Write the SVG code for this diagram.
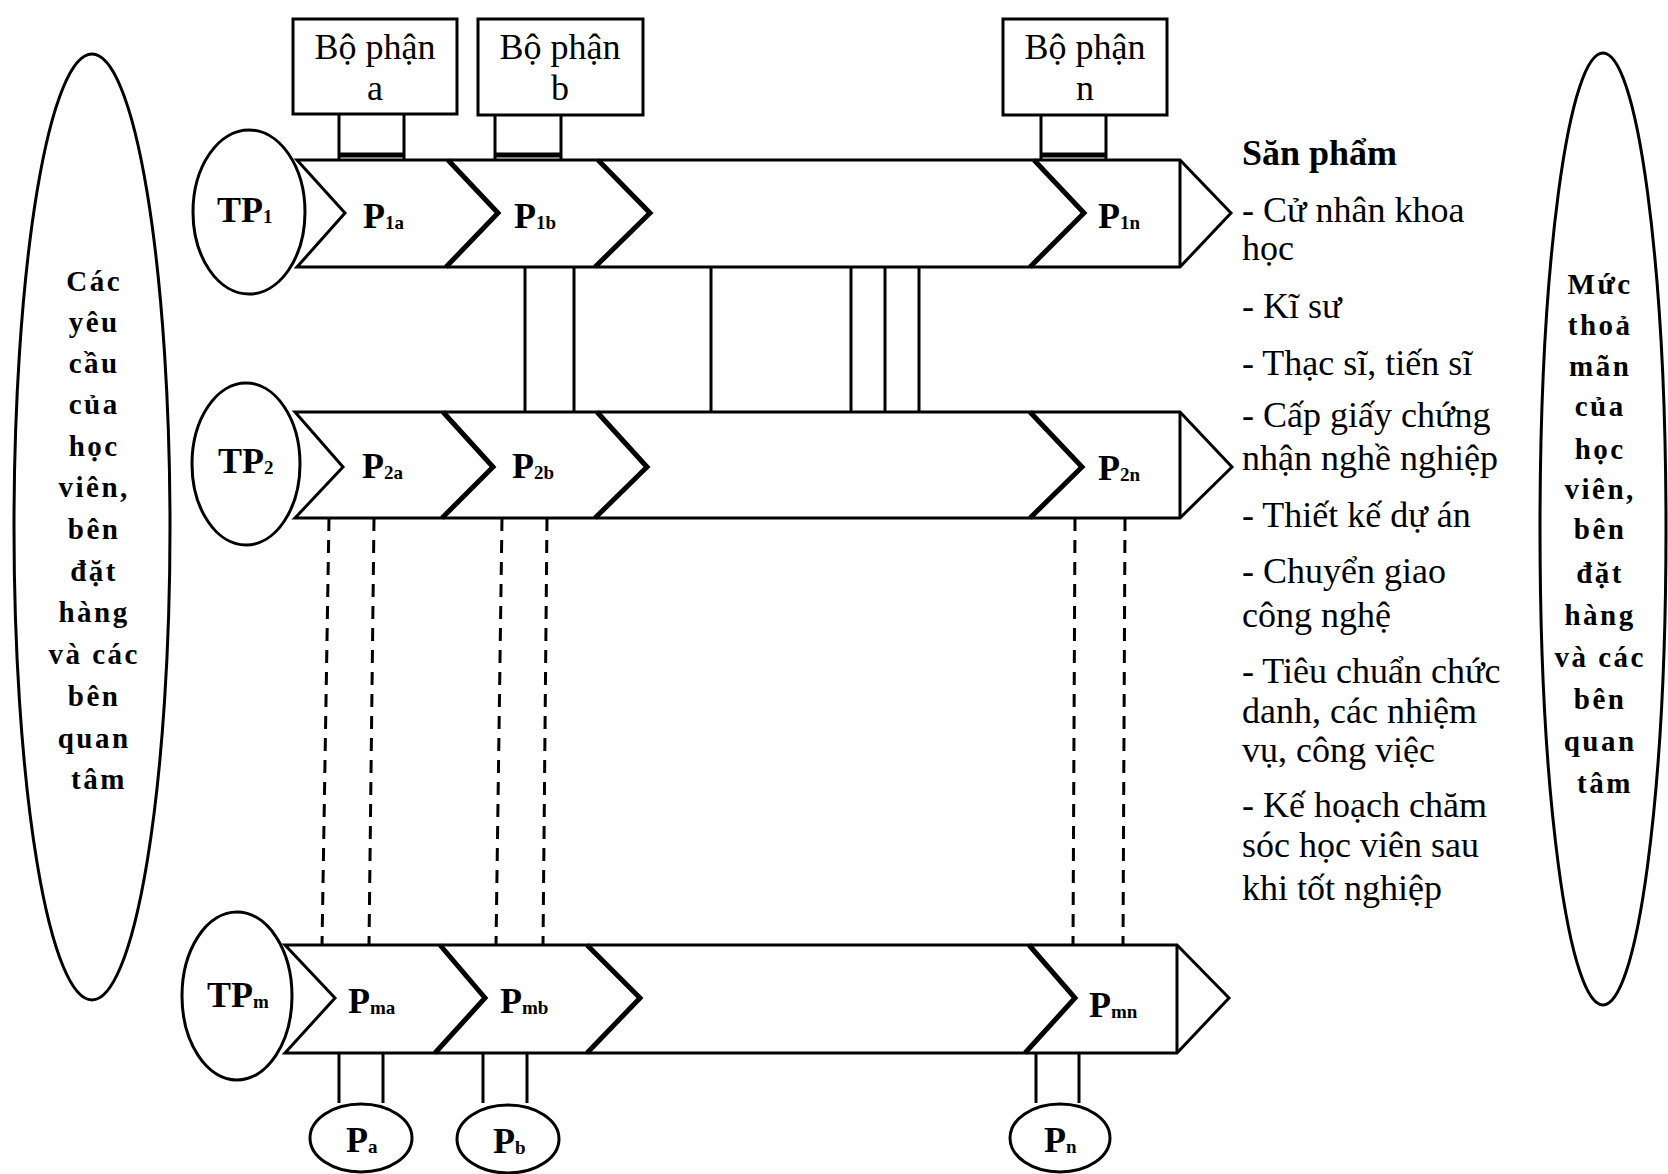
<svg xmlns="http://www.w3.org/2000/svg" width="1668" height="1174" viewBox="0 0 1668 1174">
<style>
.ln{fill:none;stroke:#000;stroke-width:3;stroke-linejoin:miter}
.ch{fill:none;stroke:#000;stroke-width:5;stroke-linejoin:miter}
.ds{fill:none;stroke:#000;stroke-width:3;stroke-dasharray:13 9}
.sh{fill:#fff;stroke:#000;stroke-width:3}
.bx{font-family:"Liberation Serif",serif;font-size:36px;text-anchor:middle}
.pl{font-family:"Liberation Serif",serif;font-size:36px;font-weight:bold}
.sb{font-size:19px}
.side{font-family:"Liberation Serif",serif;font-size:29px;font-weight:bold;text-anchor:middle;letter-spacing:2.5px}
.prod{font-family:"Liberation Serif",serif;font-size:36px}
</style>
<rect width="1668" height="1174" fill="#fff"/>

<g id="connectors">
  <path class="ln" d="M339 114V160M404 114V160M495 115V160M561 115V160M1041 115V160M1106 115V160"/>
  <path d="M339 155H404M495 155H561M1041 155H1106" stroke="#000" stroke-width="5"/>
  <path class="ln" d="M525 267V412M574 267V412M711 267V412M851 267V412M885 267V412M919 267V412"/>
  <path class="ds" d="M329 518L322 945M374 518L369 945M502 518L496 945M547 518L543 945M1075 518L1073 945M1125 518L1123 945"/>
  <path class="ln" d="M339 1053V1103M383 1053V1103M483 1053V1103M527 1053V1103M1036 1053V1103M1079 1053V1103"/>
</g>

<g id="left-ellipse">
  <ellipse class="sh" cx="92" cy="527" rx="78" ry="473"/>
  <text class="side">
    <tspan x="99" y="291">Các</tspan>
    <tspan x="99" y="332">yêu</tspan>
    <tspan x="99" y="373">cầu</tspan>
    <tspan x="99" y="414">của</tspan>
    <tspan x="99" y="456">học</tspan>
    <tspan x="99" y="497">viên,</tspan>
    <tspan x="99" y="539">bên</tspan>
    <tspan x="99" y="581">đặt</tspan>
    <tspan x="99" y="622">hàng</tspan>
    <tspan x="99" y="664">và các</tspan>
    <tspan x="99" y="706">bên</tspan>
    <tspan x="99" y="748">quan</tspan>
    <tspan x="99" y="789">tâm</tspan>
  </text>
</g>

<g id="right-ellipse">
  <ellipse class="sh" cx="1603" cy="529" rx="63" ry="476"/>
  <text class="side">
    <tspan x="1605" y="294">Mức</tspan>
    <tspan x="1605" y="335">thoả</tspan>
    <tspan x="1605" y="376">mãn</tspan>
    <tspan x="1605" y="416">của</tspan>
    <tspan x="1605" y="459">học</tspan>
    <tspan x="1605" y="499">viên,</tspan>
    <tspan x="1605" y="539">bên</tspan>
    <tspan x="1605" y="583">đặt</tspan>
    <tspan x="1605" y="625">hàng</tspan>
    <tspan x="1605" y="667">và các</tspan>
    <tspan x="1605" y="709">bên</tspan>
    <tspan x="1605" y="751">quan</tspan>
    <tspan x="1605" y="793">tâm</tspan>
  </text>
</g>

<g id="box-a">
  <rect class="sh" x="293" y="19" width="164" height="95"/>
  <text class="bx"><tspan x="375" y="59">Bộ phận</tspan><tspan x="375" y="100">a</tspan></text>
</g>
<g id="box-b">
  <rect class="sh" x="478" y="19" width="165" height="96"/>
  <text class="bx"><tspan x="560" y="59">Bộ phận</tspan><tspan x="560" y="100">b</tspan></text>
</g>
<g id="box-n">
  <rect class="sh" x="1003" y="19" width="164" height="96"/>
  <text class="bx"><tspan x="1085" y="59">Bộ phận</tspan><tspan x="1085" y="100">n</tspan></text>
</g>

<g id="row-1">
  <path class="ln" d="M297 160H1180L1231 213L1180 267H297L345 213Z"/>
  <path class="ln" d="M1180 160V267"/>
  <path class="ch" d="M448 160L498 213L446 267M598 160L650 213L595 267M1034 160L1084 213L1030 267"/>
  <text class="pl" x="363" y="228">P<tspan class="sb" dy="1">1a</tspan></text>
  <text class="pl" x="514" y="228">P<tspan class="sb" dy="1">1b</tspan></text>
  <text class="pl" x="1098" y="228">P<tspan class="sb" dy="1">1n</tspan></text>
</g>
<g id="tp-1">
  <ellipse class="sh" cx="249" cy="212" rx="56" ry="82"/>
  <text class="pl" x="217" y="222" font-size="34">TP<tspan class="sb" dy="1">1</tspan></text>
</g>

<g id="row-2">
  <path class="ln" d="M295 412H1180L1232 467L1180 518H295L343 467Z"/>
  <path class="ln" d="M1180 412V518"/>
  <path class="ch" d="M443 412L493 467L442 518M597 412L647 467L595 518M1030 412L1082 467L1030 518"/>
  <text class="pl" x="362" y="478">P<tspan class="sb" dy="1">2a</tspan></text>
  <text class="pl" x="512" y="478">P<tspan class="sb" dy="1">2b</tspan></text>
  <text class="pl" x="1098" y="480">P<tspan class="sb" dy="1">2n</tspan></text>
</g>
<g id="tp-2">
  <ellipse class="sh" cx="246" cy="464" rx="54" ry="81"/>
  <text class="pl" x="218" y="473" font-size="34">TP<tspan class="sb" dy="1">2</tspan></text>
</g>

<g id="row-m">
  <path class="ln" d="M285 945H1177L1229 998L1177 1053H285L335 998Z"/>
  <path class="ln" d="M1177 945V1053"/>
  <path class="ch" d="M440 945L485 998L435 1053M587 945L640 998L587 1053M1029 945L1075 998L1025 1053"/>
  <text class="pl" x="348" y="1013">P<tspan class="sb" dy="1">ma</tspan></text>
  <text class="pl" x="500" y="1013">P<tspan class="sb" dy="1">mb</tspan></text>
  <text class="pl" x="1089" y="1017">P<tspan class="sb" dy="1">mn</tspan></text>
</g>
<g id="tp-m">
  <ellipse class="sh" cx="237" cy="996" rx="55" ry="84"/>
  <text class="pl" x="207" y="1007" font-size="34">TP<tspan class="sb" dy="1">m</tspan></text>
</g>

<g id="out-a">
  <ellipse class="sh" cx="361" cy="1138" rx="51" ry="34"/>
  <text class="pl" x="346" y="1152" font-size="32">P<tspan class="sb" dy="1">a</tspan></text>
</g>
<g id="out-b">
  <ellipse class="sh" cx="508" cy="1139" rx="51" ry="34"/>
  <text class="pl" x="493" y="1153" font-size="32">P<tspan class="sb" dy="1">b</tspan></text>
</g>
<g id="out-n">
  <ellipse class="sh" cx="1060" cy="1138" rx="50" ry="34"/>
  <text class="pl" x="1044" y="1152" font-size="32">P<tspan class="sb" dy="1">n</tspan></text>
</g>

<g id="products">
  <text class="prod" x="1242" y="165" font-weight="bold">Săn phẩm</text>
  <text class="prod">
    <tspan x="1242" y="222">- Cử nhân khoa</tspan>
    <tspan x="1242" y="260">học</tspan>
    <tspan x="1242" y="318">- Kĩ sư</tspan>
    <tspan x="1242" y="375">- Thạc sĩ, tiến sĩ</tspan>
    <tspan x="1242" y="427">- Cấp giấy chứng</tspan>
    <tspan x="1242" y="470">nhận nghề nghiệp</tspan>
    <tspan x="1242" y="527">- Thiết kế dự án</tspan>
    <tspan x="1242" y="583">- Chuyển giao</tspan>
    <tspan x="1242" y="627">công nghệ</tspan>
    <tspan x="1242" y="683">- Tiêu chuẩn chức</tspan>
    <tspan x="1242" y="723">danh, các nhiệm</tspan>
    <tspan x="1242" y="762">vụ, công việc</tspan>
    <tspan x="1242" y="817">- Kế hoạch chăm</tspan>
    <tspan x="1242" y="857">sóc học viên sau</tspan>
    <tspan x="1242" y="900">khi tốt nghiệp</tspan>
  </text>
</g>
</svg>
